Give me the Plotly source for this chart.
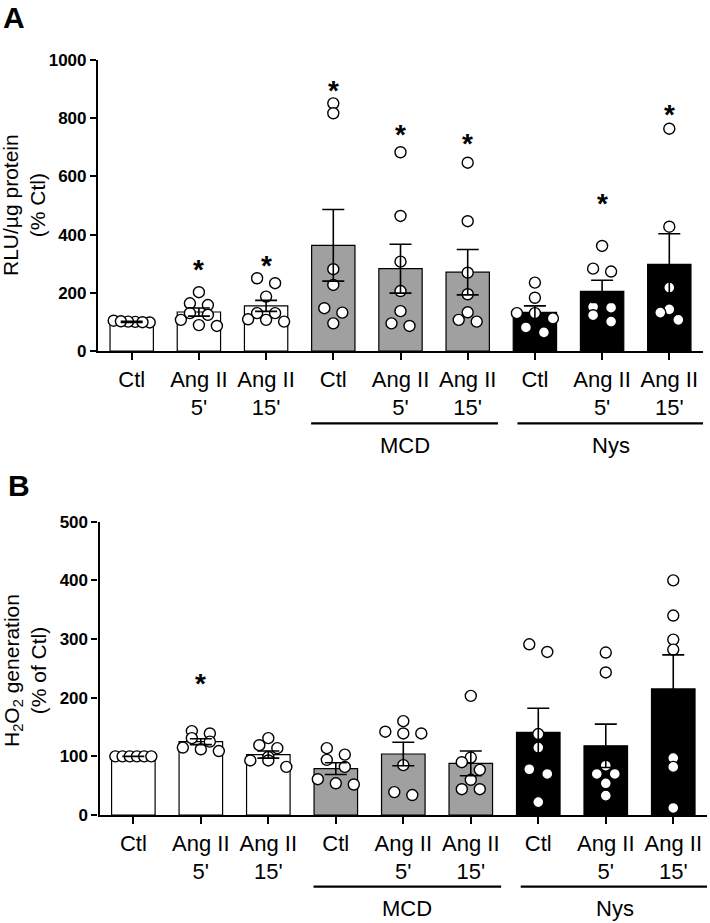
import plotly.graph_objects as go

# ---------------- data ----------------
tick_labels = ["Ctl", "Ang II<br>5'", "Ang II<br>15'", "Ctl", "Ang II<br>5'", "Ang II<br>15'",
               "Ctl", "Ang II<br>5'", "Ang II<br>15'"]
group_names = ["MCD", "Nys"]

A_points = [
    [104, 100, 98, 101, 99, 102],
    [202, 164, 158, 130, 124, 107, 89, 86],
    [250, 233, 187, 130, 130, 109, 107, 101],
    [851, 817, 281, 227, 147, 132, 95],
    [683, 464, 307, 206, 137, 95, 86],
    [647, 446, 269, 195, 133, 107, 101],
    [235, 183, 130, 130, 112, 81, 64],
    [361, 283, 273, 152, 149, 123, 101],
    [764, 427, 218, 143, 132, 107],
]
A_mean = [100, 134, 155, 363, 283, 271, 133, 205, 298]
A_sem = [2, 14, 19, 123, 84, 78, 22, 38, 105]
A_sig_idx = [1, 2, 3, 4, 5, 7, 8]
A_sig_y = [293, 307, 908, 759, 727, 521, 828]

B_points = [
    [100, 100, 100, 100, 100, 100],
    [143, 139, 131, 125, 115, 112, 109],
    [131, 119, 114, 99, 93, 93, 82],
    [114, 103, 94, 82, 61, 54, 52],
    [160, 142, 139, 139, 85, 39, 34],
    [203, 98, 90, 77, 60, 44, 44],
    [291, 278, 138, 115, 78, 70, 22],
    [277, 243, 84, 70, 70, 54, 33],
    [400, 340, 299, 282, 97, 82, 12],
]
B_mean = [100, 125, 103, 79, 104, 88, 141, 118, 215]
B_sem = [0, 5, 6, 10, 20, 21, 41, 37, 58]
B_sig_idx = [1]
B_sig_y = [231]

# ---------------- styling / layout ----------------
W, H = 710, 923
FONT = "Arial, Liberation Sans, sans-serif"
bar_colors = ["white"] * 3 + ["#a0a0a0"] * 3 + ["black"] * 3
ncat = len(tick_labels)
xr = [-0.5, ncat - 0.5]

panels = {
    "A": dict(xpx=(98.1, 702.9), ypx=(60, 351), yr=[0, 1000], dt=200,
              pts=A_points, mean=A_mean, sem=A_sem, sig_idx=A_sig_idx, sig_y=A_sig_y,
              ax="", title="RLU/µg protein<br>(% Ctl)", title_xy=(24, 205),
              line_y=423.3, grp_y=445.7, label_x=2, label_y=None),
    "B": dict(xpx=(99.6, 707.0), ypx=(521.7, 815), yr=[0, 500], dt=100,
              pts=B_points, mean=B_mean, sem=B_sem, sig_idx=B_sig_idx, sig_y=B_sig_y,
              ax="2", title="H<sub>2</sub>O<sub>2</sub> generation<br>(% of Ctl)", title_xy=(25, 671),
              line_y=886.7, grp_y=908.3, label_x=7, label_y=485),
}


def swarm(vals, ppu, cat_px, row_h=8.0):
    """Simple row-based dot arrangement (GraphPad-like)."""
    order = sorted(range(len(vals)), key=lambda i: vals[i])
    rows, cur, start = [], [], None
    for i in order:
        y = vals[i] * ppu
        if cur and y - start > row_h:
            rows.append(cur)
            cur = []
        if not cur:
            start = y
        cur.append(i)
    if cur:
        rows.append(cur)
    off = [0.0] * len(vals)
    for row in rows:
        n = len(row)
        if n == 1:
            continue
        sp = 18.0 if n <= 3 else 36.0 / (n - 1)
        row_sorted = sorted(row, key=lambda i: -vals[i])
        for k, i in enumerate(row_sorted):
            off[i] = (k - (n - 1) / 2) * sp / cat_px
    return off


fig = go.Figure()
annotations = []
shapes = []
layout_axes = {}

for key, p in panels.items():
    xa = "x" + p["ax"]
    ya = "y" + p["ax"]
    x0, x1 = p["xpx"]
    yt, yb = p["ypx"]
    cat_px = (x1 - x0) / ncat
    ppu = (yb - yt) / (p["yr"][1] - p["yr"][0])

    fig.add_trace(go.Bar(
        x=list(range(ncat)), y=p["mean"], width=0.645,
        marker=dict(color=bar_colors, line=dict(color="black", width=1.2)),
        xaxis=xa, yaxis=ya, showlegend=False, hoverinfo="skip"))

    px_, py_ = [], []
    for i, vals in enumerate(p["pts"]):
        offs = swarm(vals, ppu, cat_px)
        for v, o in zip(vals, offs):
            px_.append(i + o)
            py_.append(v)
    fig.add_trace(go.Scatter(
        x=px_, y=py_, mode="markers", xaxis=xa, yaxis=ya, showlegend=False,
        marker=dict(symbol="circle", size=11, color="white", line=dict(color="black", width=1.4)),
        cliponaxis=False, hoverinfo="skip"))

    fig.add_trace(go.Scatter(
        x=list(range(ncat)), y=p["mean"], mode="markers", xaxis=xa, yaxis=ya, showlegend=False,
        marker=dict(size=1, color="rgba(0,0,0,0)"),
        error_y=dict(type="data", array=p["sem"], visible=True, color="black", thickness=1.6, width=11),
        hoverinfo="skip"))

    for i, yv in zip(p["sig_idx"], p["sig_y"]):
        annotations.append(dict(x=i, y=yv, xref=xa, yref=ya, text="<b>*</b>", showarrow=False,
                                font=dict(family=FONT, size=28, color="black"),
                                xanchor="center", yanchor="middle", yshift=-4))

    # y title
    tx, ty = p["title_xy"]
    annotations.append(dict(x=tx / W, y=1 - ty / H, xref="paper", yref="paper", text=p["title"],
                            textangle=-90, showarrow=False, xanchor="center", yanchor="middle",
                            font=dict(family=FONT, size=21, color="black")))
    # panel label
    if p["label_y"] is None:
        annotations.append(dict(x=p["label_x"] / W, y=1.0, xref="paper", yref="paper",
                                text="<b>" + key + "</b>", showarrow=False, xanchor="left",
                                yanchor="top", borderpad=0,
                                font=dict(family=FONT, size=30, color="black")))
    else:
        annotations.append(dict(x=p["label_x"] / W, y=1 - p["label_y"] / H, xref="paper", yref="paper",
                                text="<b>" + key + "</b>", showarrow=False, xanchor="left",
                                yanchor="middle", borderpad=0,
                                font=dict(family=FONT, size=30, color="black")))
    # group lines + labels
    for g, (ga, gb) in zip(group_names, [(2.67, 5.45), (5.74, 8.53)]):
        shapes.append(dict(type="line", xref=xa, yref="paper", x0=ga, x1=gb,
                           y0=1 - p["line_y"] / H, y1=1 - p["line_y"] / H,
                           line=dict(color="black", width=2.2)))
        annotations.append(dict(x=(ga + gb) / 2, y=1 - p["grp_y"] / H, xref=xa, yref="paper", text=g,
                                showarrow=False, xanchor="center", yanchor="middle",
                                font=dict(family=FONT, size=22, color="black")))

    axname_x = "xaxis" + p["ax"]
    axname_y = "yaxis" + p["ax"]
    layout_axes[axname_x] = dict(
        domain=[x0 / W, x1 / W], range=xr, anchor=ya,
        tickmode="array", tickvals=list(range(ncat)), ticktext=tick_labels,
        tickfont=dict(family=FONT, size=22, color="black"),
        ticks="outside", ticklen=7, tickwidth=2, tickcolor="black",
        showline=True, linewidth=2.4, linecolor="black",
        showgrid=False, zeroline=False, fixedrange=True, automargin=False)
    layout_axes[axname_y] = dict(
        domain=[1 - yb / H, 1 - yt / H], range=p["yr"], anchor=xa,
        tickmode="linear", tick0=0, dtick=p["dt"],
        tickfont=dict(family=FONT, size=17, color="black", weight="bold"),
        ticks="outside", ticklen=6, tickwidth=2, tickcolor="black",
        showline=True, linewidth=2.4, linecolor="black",
        showgrid=False, zeroline=False, fixedrange=True, automargin=False)

fig.update_layout(
    width=W, height=H, margin=dict(l=0, r=0, t=0, b=0),
    paper_bgcolor="white", plot_bgcolor="white",
    barmode="overlay", showlegend=False,
    annotations=annotations, shapes=shapes,
    font=dict(family=FONT, color="black"),
    **layout_axes)

fig.write_html("out.html", config={"displayModeBar": False},
               post_script="document.body.style.margin='0';")
